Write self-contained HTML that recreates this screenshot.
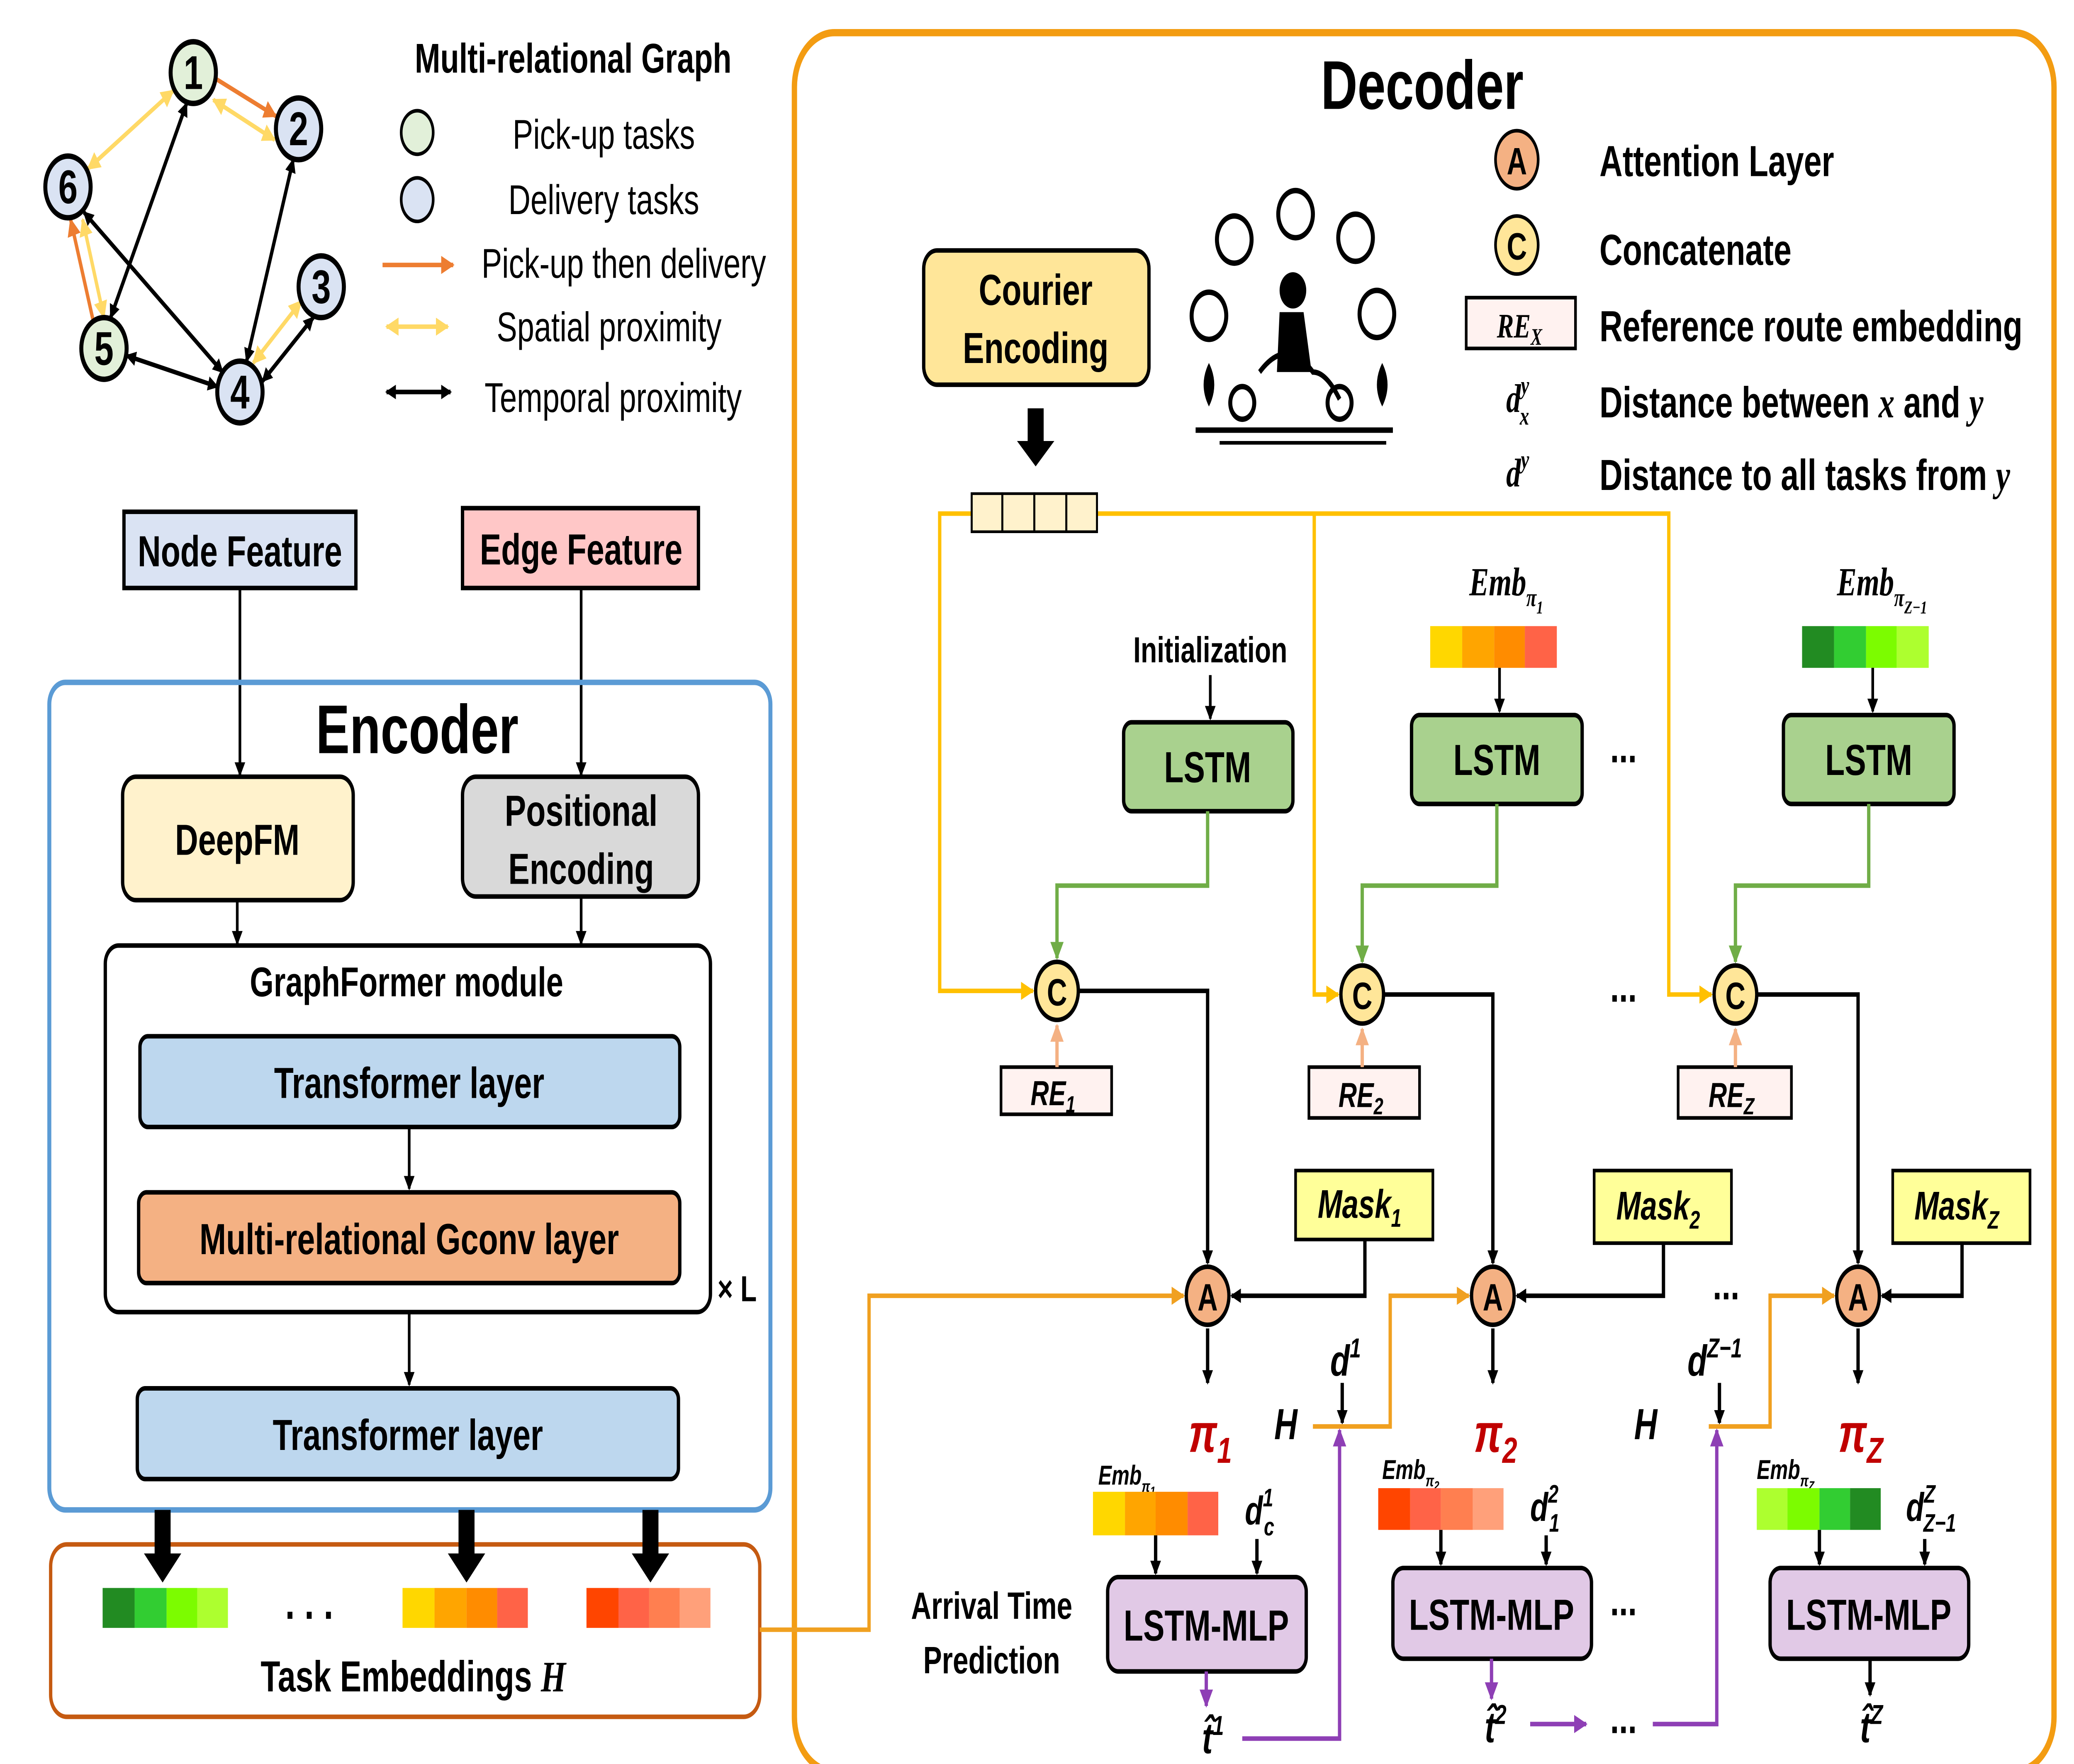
<!DOCTYPE html>
<html><head><meta charset="utf-8"><style>
html,body{margin:0;padding:0;background:#fff;width:100vw;height:100vh;overflow:hidden;}
svg{display:block;width:100vw;height:100vh;}
text{font-family:"Liberation Sans",sans-serif;}
.b{font-weight:bold;}
.m{font-family:"Liberation Serif",serif;font-style:italic;font-weight:bold;}
</style></head><body>
<svg viewBox="0 0 1556 972" preserveAspectRatio="none" xmlns="http://www.w3.org/2000/svg">
<defs>
<marker id="ak" markerWidth="8" markerHeight="8" refX="7" refY="4" orient="auto" markerUnits="userSpaceOnUse"><path d="M0,0 L8,4 L0,8 z" fill="#000"/></marker>
<marker id="ak2" markerWidth="8" markerHeight="8" refX="1" refY="4" orient="auto" markerUnits="userSpaceOnUse"><path d="M8,0 L0,4 L8,8 z" fill="#000"/></marker>
<marker id="ao" markerWidth="10" markerHeight="10" refX="9" refY="5" orient="auto" markerUnits="userSpaceOnUse"><path d="M0,0 L10,5 L0,10 z" fill="#f0a020"/></marker>
<marker id="ay" markerWidth="10" markerHeight="10" refX="9" refY="5" orient="auto" markerUnits="userSpaceOnUse"><path d="M0,0 L10,5 L0,10 z" fill="#ffc000"/></marker>
<marker id="ay2" markerWidth="10" markerHeight="10" refX="1" refY="5" orient="auto" markerUnits="userSpaceOnUse"><path d="M10,0 L0,5 L10,10 z" fill="#ffd966"/></marker>
<marker id="ayl" markerWidth="10" markerHeight="10" refX="9" refY="5" orient="auto" markerUnits="userSpaceOnUse"><path d="M0,0 L10,5 L0,10 z" fill="#ffd966"/></marker>
<marker id="ar" markerWidth="10" markerHeight="10" refX="9" refY="5" orient="auto" markerUnits="userSpaceOnUse"><path d="M0,0 L10,5 L0,10 z" fill="#ed7d31"/></marker>
<marker id="ag" markerWidth="10" markerHeight="10" refX="9" refY="5" orient="auto" markerUnits="userSpaceOnUse"><path d="M0,0 L10,5 L0,10 z" fill="#70ad47"/></marker>
<marker id="ap" markerWidth="10" markerHeight="10" refX="9" refY="5" orient="auto" markerUnits="userSpaceOnUse"><path d="M0,0 L10,5 L0,10 z" fill="#8e3fb5"/></marker>
<marker id="al" markerWidth="10" markerHeight="10" refX="9" refY="5" orient="auto" markerUnits="userSpaceOnUse"><path d="M0,0 L10,5 L0,10 z" fill="#f4b183"/></marker>
</defs>

<!-- ===== Graph ===== -->
<g stroke-width="2.5" fill="none">
<line x1="161" y1="43" x2="207" y2="64" stroke="#ed7d31" marker-end="url(#ar)"/>
<line x1="160" y1="55" x2="206" y2="77" stroke="#ffd966" marker-end="url(#ayl)" marker-start="url(#ay2)"/>
<line x1="130" y1="50" x2="66" y2="93" stroke="#ffd966" marker-end="url(#ayl)" marker-start="url(#ay2)"/>
<line x1="220" y1="88" x2="185" y2="199" stroke="#000" marker-end="url(#ak)" marker-start="url(#ak2)"/>
<line x1="190" y1="200" x2="226" y2="166" stroke="#ffd966" marker-end="url(#ayl)" marker-start="url(#ay2)"/>
<line x1="197" y1="210" x2="235" y2="175" stroke="#000" marker-end="url(#ak)" marker-start="url(#ak2)"/>
<line x1="167" y1="205" x2="63" y2="117" stroke="#000" marker-end="url(#ak)" marker-start="url(#ak2)"/>
<line x1="140" y1="57" x2="83" y2="175" stroke="#000" marker-end="url(#ak)" marker-start="url(#ak2)"/>
<line x1="95" y1="196" x2="163" y2="213" stroke="#000" marker-end="url(#ak)" marker-start="url(#ak2)"/>
<line x1="70" y1="177" x2="53" y2="121" stroke="#ed7d31" marker-end="url(#ar)"/>
<line x1="62" y1="121" x2="78" y2="175" stroke="#ffd966" marker-end="url(#ayl)" marker-start="url(#ay2)"/>
</g>
<g stroke="#000" stroke-width="3">
<circle cx="145" cy="40" r="17" fill="#e2f0d9"/><circle cx="224" cy="71" r="17" fill="#dae3f3"/>
<circle cx="241" cy="158" r="17" fill="#dae3f3"/><circle cx="180" cy="216" r="17" fill="#dae3f3"/>
<circle cx="78" cy="192" r="17" fill="#e2f0d9"/><circle cx="51" cy="103" r="17" fill="#dae3f3"/>
</g>
<g font-size="26" font-weight="bold" text-anchor="middle">
<text x="145" y="49">1</text><text x="224" y="80">2</text><text x="241" y="167">3</text><text x="180" y="225">4</text><text x="78" y="201">5</text><text x="51" y="112">6</text>
</g>
<text x="430" y="40" font-size="23" class="b" text-anchor="middle">Multi-relational Graph</text>
<circle cx="313" cy="73" r="12" fill="#e2f0d9" stroke="#000" stroke-width="2"/>
<circle cx="313" cy="110" r="12" fill="#dae3f3" stroke="#000" stroke-width="2"/>
<g font-size="23" text-anchor="middle">
<text x="453" y="82">Pick-up tasks</text><text x="453" y="118">Delivery tasks</text>
<text x="468" y="153">Pick-up then delivery</text><text x="457" y="188">Spatial proximity</text><text x="460" y="227">Temporal proximity</text>
</g>
<line x1="287" y1="146" x2="340" y2="146" stroke="#ed7d31" stroke-width="2.5" marker-end="url(#ar)"/>
<line x1="290" y1="180" x2="336" y2="180" stroke="#ffd966" stroke-width="2.5" marker-end="url(#ayl)" marker-start="url(#ay2)"/>
<line x1="290" y1="216" x2="338" y2="216" stroke="#000" stroke-width="2.5" marker-end="url(#ak)" marker-start="url(#ak2)"/>

<!-- ===== Encoder ===== -->
<rect x="93" y="282" width="174" height="42" fill="#dae3f3" stroke="#000" stroke-width="2.5"/>
<text x="180" y="312" font-size="24" class="b" text-anchor="middle">Node Feature</text>
<rect x="347" y="280" width="177" height="44" fill="#ffc7c7" stroke="#000" stroke-width="2.5"/>
<text x="436" y="311" font-size="24" class="b" text-anchor="middle">Edge Feature</text>
<line x1="180" y1="324" x2="180" y2="427" stroke="#000" stroke-width="2" marker-end="url(#ak)"/>
<line x1="436" y1="324" x2="436" y2="427" stroke="#000" stroke-width="2" marker-end="url(#ak)"/>
<rect x="37" y="376" width="541" height="456" rx="12" fill="none" stroke="#5b9bd5" stroke-width="3"/>
<text x="313" y="415" font-size="38" class="b" text-anchor="middle">Encoder</text>
<rect x="92" y="428" width="173" height="68" rx="10" fill="#fff2cc" stroke="#000" stroke-width="2.5"/>
<text x="178" y="471" font-size="24" class="b" text-anchor="middle">DeepFM</text>
<rect x="347" y="428" width="177" height="66" rx="10" fill="#d9d9d9" stroke="#000" stroke-width="2.5"/>
<text x="436" y="455" font-size="24" class="b" text-anchor="middle">Positional</text>
<text x="436" y="487" font-size="24" class="b" text-anchor="middle">Encoding</text>
<line x1="178" y1="496" x2="178" y2="520" stroke="#000" stroke-width="2" marker-end="url(#ak)"/>
<line x1="436" y1="494" x2="436" y2="520" stroke="#000" stroke-width="2" marker-end="url(#ak)"/>
<rect x="79" y="521" width="454" height="202" rx="10" fill="#fff" stroke="#000" stroke-width="2.5"/>
<text x="305" y="549" font-size="23" class="b" text-anchor="middle">GraphFormer module</text>
<rect x="105" y="571" width="405" height="50" rx="6" fill="#bdd7ee" stroke="#000" stroke-width="2.5"/>
<text x="307" y="605" font-size="24" class="b" text-anchor="middle">Transformer layer</text>
<line x1="307" y1="621" x2="307" y2="655" stroke="#000" stroke-width="2" marker-end="url(#ak)"/>
<rect x="104" y="657" width="406" height="50" rx="6" fill="#f4b183" stroke="#000" stroke-width="2.5"/>
<text x="307" y="691" font-size="24" class="b" text-anchor="middle">Multi-relational Gconv layer</text>
<text x="553" y="717" font-size="20" class="b" text-anchor="middle">× L</text>
<line x1="307" y1="723" x2="307" y2="763" stroke="#000" stroke-width="2" marker-end="url(#ak)"/>
<rect x="103" y="765" width="406" height="50" rx="6" fill="#bdd7ee" stroke="#000" stroke-width="2.5"/>
<text x="306" y="799" font-size="24" class="b" text-anchor="middle">Transformer layer</text>

<!-- Task embeddings -->
<rect x="38" y="851" width="532" height="95" rx="12" fill="#fff" stroke="#c55a11" stroke-width="2.5"/>
<g>
<rect x="77" y="875" width="24" height="22" fill="#228b22"/><rect x="101" y="875" width="24" height="22" fill="#32cd32"/><rect x="125" y="875" width="23" height="22" fill="#7cfc00"/><rect x="148" y="875" width="23" height="22" fill="#adff2f"/>
<rect x="302" y="875" width="24" height="22" fill="#ffd700"/><rect x="326" y="875" width="24" height="22" fill="#ffa500"/><rect x="350" y="875" width="23" height="22" fill="#ff8c00"/><rect x="373" y="875" width="23" height="22" fill="#ff6347"/>
<rect x="440" y="875" width="24" height="22" fill="#ff4500"/><rect x="464" y="875" width="23" height="22" fill="#ff6347"/><rect x="487" y="875" width="23" height="22" fill="#ff7f50"/><rect x="510" y="875" width="23" height="22" fill="#ffa07a"/>
</g>
<text x="232" y="892" font-size="26" class="b" text-anchor="middle">. . .</text>
<text x="310" y="932" font-size="24" class="b" text-anchor="middle">Task Embeddings <tspan class="m">H</tspan></text>
<g fill="#000">
<rect x="116" y="832" width="12" height="24"/><path d="M108,856 L136,856 L122,872 z"/>
<rect x="344" y="832" width="12" height="24"/><path d="M336,856 L364,856 L350,872 z"/>
<rect x="482" y="832" width="12" height="24"/><path d="M474,856 L502,856 L488,872 z"/>
</g>

<!-- ===== Decoder ===== -->
<rect x="596" y="18" width="945" height="958" rx="30" fill="none" stroke="#f39c12" stroke-width="4"/>
<text x="1067" y="60" font-size="38" class="b" text-anchor="middle">Decoder</text>

<rect x="693" y="138" width="169" height="74" rx="10" fill="#ffe699" stroke="#000" stroke-width="2.5"/>
<text x="777" y="168" font-size="24" class="b" text-anchor="middle">Courier</text>
<text x="777" y="200" font-size="24" class="b" text-anchor="middle">Encoding</text>
<rect x="771" y="225" width="12" height="20"/><path d="M763,243 L791,243 L777,257 z"/>

<!-- yellow lines -->
<g stroke="#ffc000" stroke-width="2.5" fill="none">
<path d="M729,283 L705,283 L705,546 L775,546" marker-end="url(#ay)"/>
<path d="M823,283 L1252,283 L1252,548 L1284,548" marker-end="url(#ay)"/>
<path d="M986,283 L986,548 L1004,548" marker-end="url(#ay)"/>
</g>
<g fill="#fff2cc" stroke="#000" stroke-width="1.5">
<rect x="729" y="272" width="23" height="21"/><rect x="752" y="272" width="24" height="21"/><rect x="776" y="272" width="24" height="21"/><rect x="800" y="272" width="23" height="21"/>
</g>

<!-- scooter icon -->
<g stroke="#000" stroke-width="3" fill="none">
<circle cx="926" cy="132" r="13"/><circle cx="972" cy="118" r="13"/><circle cx="1017" cy="131" r="13"/>
<circle cx="907" cy="174" r="13"/><circle cx="1033" cy="173" r="13"/>
<path d="M945,205 q20,-20 40,0 q10,0 20,15" /><circle cx="932" cy="222" r="9"/><circle cx="1005" cy="222" r="9"/>
<line x1="897" y1="237" x2="1045" y2="237"/><line x1="915" y1="244" x2="1040" y2="244" stroke-width="2"/>
</g>
<circle cx="970" cy="160" r="10" fill="#000"/><path d="M960,172 L978,172 L984,205 L958,205 z" fill="#000"/>
<path d="M907,200 q-8,12 0,24 q8,-12 0,-24z M1037,200 q-8,12 0,24 q8,-12 0,-24z" fill="#000"/>

<!-- legend -->
<circle cx="1138" cy="88" r="16" fill="#f4b183" stroke="#000" stroke-width="2"/>
<text x="1138" y="96" font-size="21" class="b" text-anchor="middle">A</text>
<circle cx="1138" cy="135" r="16" fill="#ffe699" stroke="#000" stroke-width="2"/>
<text x="1138" y="143" font-size="21" class="b" text-anchor="middle">C</text>
<rect x="1100" y="164" width="82" height="28" fill="#fff2f0" stroke="#000" stroke-width="2"/>
<text x="1140" y="186" font-size="19" class="m" text-anchor="middle">RE<tspan font-size="13" dy="4">X</tspan></text>
<text x="1130" y="227" font-size="22" class="m">d<tspan font-size="14" dy="-10">y</tspan><tspan font-size="14" dx="-7" dy="17">x</tspan></text>
<text x="1130" y="268" font-size="22" class="m">d<tspan font-size="14" dy="-10">y</tspan></text>
<g font-size="24" class="b">
<text x="1200" y="97">Attention Layer</text><text x="1200" y="146">Concatenate</text>
<text x="1200" y="188">Reference route embedding</text>
<text x="1200" y="230">Distance between <tspan class="m">x</tspan> and <tspan class="m">y</tspan></text>
<text x="1200" y="270">Distance to all tasks from <tspan class="m">y</tspan></text>
</g>

<!-- LSTMs -->
<text x="908" y="365" font-size="20" class="b" text-anchor="middle">Initialization</text>
<line x1="908" y1="372" x2="908" y2="396" stroke="#000" stroke-width="2" marker-end="url(#ak)"/>
<text x="1130" y="328" font-size="22" class="m" text-anchor="middle">Emb<tspan font-size="14" dy="6">π<tspan font-size="10" dy="4">1</tspan></tspan></text>
<rect x="1073" y="345" width="24" height="23" fill="#ffd700"/><rect x="1097" y="345" width="24" height="23" fill="#ffa500"/><rect x="1121" y="345" width="23" height="23" fill="#ff8c00"/><rect x="1144" y="345" width="24" height="23" fill="#ff6347"/>
<text x="1412" y="328" font-size="22" class="m" text-anchor="middle">Emb<tspan font-size="14" dy="6">π<tspan font-size="10" dy="4">Z−1</tspan></tspan></text>
<rect x="1352" y="345" width="24" height="23" fill="#228b22"/><rect x="1376" y="345" width="24" height="23" fill="#32cd32"/><rect x="1400" y="345" width="23" height="23" fill="#7cfc00"/><rect x="1423" y="345" width="24" height="23" fill="#adff2f"/>
<line x1="1125" y1="368" x2="1125" y2="392" stroke="#000" stroke-width="2" marker-end="url(#ak)"/>
<line x1="1405" y1="368" x2="1405" y2="392" stroke="#000" stroke-width="2" marker-end="url(#ak)"/>
<g fill="#a9d18e" stroke="#000" stroke-width="2.5">
<rect x="843" y="398" width="127" height="49" rx="6"/><rect x="1059" y="394" width="128" height="49" rx="6"/><rect x="1338" y="394" width="128" height="49" rx="6"/>
</g>
<g font-size="24" class="b" text-anchor="middle">
<text x="906" y="431">LSTM</text><text x="1123" y="427">LSTM</text><text x="1402" y="427">LSTM</text>
</g>
<g font-size="24" class="b" text-anchor="middle">
<text x="1218" y="420">...</text><text x="1218" y="552">...</text><text x="1295" y="716">...</text><text x="1218" y="890">...</text><text x="1218" y="955">...</text>
</g>
<g stroke="#70ad47" stroke-width="2.5" fill="none">
<path d="M906,447 L906,488 L793,488 L793,528" marker-end="url(#ag)"/>
<path d="M1123,443 L1123,488 L1022,488 L1022,530" marker-end="url(#ag)"/>
<path d="M1402,443 L1402,488 L1302,488 L1302,530" marker-end="url(#ag)"/>
</g>

<!-- RE boxes -->
<g fill="#fff2f0" stroke="#000" stroke-width="2">
<rect x="751" y="588" width="83" height="26"/><rect x="982" y="588" width="83" height="28"/><rect x="1259" y="588" width="85" height="28"/>
</g>
<g font-size="19" class="m" text-anchor="middle">
<text x="790" y="609">RE<tspan font-size="13" dy="4">1</tspan></text>
<text x="1021" y="610">RE<tspan font-size="13" dy="4">2</tspan></text>
<text x="1299" y="610">RE<tspan font-size="13" dy="4">Z</tspan></text>
</g>
<g stroke="#f4b183" stroke-width="2.5">
<line x1="793" y1="588" x2="793" y2="565" marker-end="url(#al)"/>
<line x1="1022" y1="588" x2="1022" y2="567" marker-end="url(#al)"/>
<line x1="1302" y1="588" x2="1302" y2="567" marker-end="url(#al)"/>
</g>

<!-- C -> A black -->
<g stroke="#000" stroke-width="2.5" fill="none">
<path d="M809,546 L906,546 L906,696" marker-end="url(#ak)"/>
<path d="M1038,548 L1120,548 L1120,696" marker-end="url(#ak)"/>
<path d="M1318,548 L1394,548 L1394,696" marker-end="url(#ak)"/>
<path d="M1024,683 L1024,714 L924,714" marker-end="url(#ak)"/>
<path d="M1248,685 L1248,714 L1138,714" marker-end="url(#ak)"/>
<path d="M1472,685 L1472,714 L1412,714" marker-end="url(#ak)"/>
<line x1="906" y1="732" x2="906" y2="762" marker-end="url(#ak)"/>
<line x1="1120" y1="732" x2="1120" y2="762" marker-end="url(#ak)"/>
<line x1="1394" y1="732" x2="1394" y2="762" marker-end="url(#ak)"/>
<line x1="1007" y1="762" x2="1007" y2="784" marker-end="url(#ak)"/>
<line x1="1290" y1="762" x2="1290" y2="784" marker-end="url(#ak)"/>
</g>
<g fill="#ffe699" stroke="#000" stroke-width="2.5">
<circle cx="793" cy="546" r="16"/><circle cx="1022" cy="548" r="16"/><circle cx="1302" cy="548" r="16"/>
</g>
<g font-size="21" class="b" text-anchor="middle">
<text x="793" y="554">C</text><text x="1022" y="556">C</text><text x="1302" y="556">C</text>
</g>

<!-- Masks -->
<g fill="#ffff99" stroke="#000" stroke-width="2">
<rect x="972" y="645" width="103" height="38"/><rect x="1196" y="645" width="103" height="40"/><rect x="1420" y="645" width="103" height="40"/>
</g>
<g font-size="22" class="m" text-anchor="middle">
<text x="1020" y="671">Mask<tspan font-size="14" dy="5">1</tspan></text>
<text x="1244" y="672">Mask<tspan font-size="14" dy="5">2</tspan></text>
<text x="1468" y="672">Mask<tspan font-size="14" dy="5">Z</tspan></text>
</g>

<!-- orange H lines -->
<g stroke="#f0a020" stroke-width="2.5" fill="none">
<path d="M570,898 L652,898 L652,714 L888,714" marker-end="url(#ao)"/>
<path d="M985,786 L1043,786 L1043,714 L1102,714" marker-end="url(#ao)"/>
<path d="M1282,786 L1328,786 L1328,714 L1376,714" marker-end="url(#ao)"/>
</g>
<g fill="#f4b183" stroke="#000" stroke-width="2.5">
<circle cx="906" cy="714" r="16"/><circle cx="1120" cy="714" r="16"/><circle cx="1394" cy="714" r="16"/>
</g>
<g font-size="21" class="b" text-anchor="middle">
<text x="906" y="722">A</text><text x="1120" y="722">A</text><text x="1394" y="722">A</text>
</g>
<g font-size="24" class="m">
<text x="956" y="793">H</text><text x="1226" y="793">H</text>
<text x="998" y="758">d<tspan font-size="15" dy="-10">1</tspan></text>
<text x="1266" y="758">d<tspan font-size="15" dy="-10">Z−1</tspan></text>
</g>
<g font-size="30" class="m" fill="#c00000" text-anchor="middle">
<text x="908" y="800">π<tspan font-size="20" dy="6">1</tspan></text>
<text x="1122" y="800">π<tspan font-size="20" dy="6">2</tspan></text>
<text x="1396" y="800">π<tspan font-size="20" dy="6">Z</tspan></text>
</g>

<!-- bottom Emb bars -->
<g font-size="15" class="m">
<text x="824" y="818">Emb<tspan font-size="9" dy="4">π<tspan font-size="7" dy="2">1</tspan></tspan></text>
<text x="1037" y="815">Emb<tspan font-size="9" dy="4">π<tspan font-size="7" dy="2">2</tspan></tspan></text>
<text x="1318" y="815">Emb<tspan font-size="9" dy="4">π<tspan font-size="7" dy="2">Z</tspan></tspan></text>
</g>
<rect x="820" y="822" width="24" height="24" fill="#ffd700"/><rect x="844" y="822" width="23" height="24" fill="#ffa500"/><rect x="867" y="822" width="24" height="24" fill="#ff8c00"/><rect x="891" y="822" width="23" height="24" fill="#ff6347"/>
<rect x="1034" y="820" width="24" height="23" fill="#ff4500"/><rect x="1058" y="820" width="23" height="23" fill="#ff6347"/><rect x="1081" y="820" width="24" height="23" fill="#ff7f50"/><rect x="1105" y="820" width="23" height="23" fill="#ffa07a"/>
<rect x="1318" y="820" width="23" height="23" fill="#adff2f"/><rect x="1341" y="820" width="24" height="23" fill="#7cfc00"/><rect x="1365" y="820" width="23" height="23" fill="#32cd32"/><rect x="1388" y="820" width="23" height="23" fill="#228b22"/>
<g font-size="22" class="m">
<text x="934" y="840">d<tspan font-size="14" dy="-10">1</tspan><tspan font-size="14" dx="-7" dy="16">c</tspan></text>
<text x="1148" y="838">d<tspan font-size="14" dy="-10">2</tspan><tspan font-size="14" dx="-7" dy="16">1</tspan></text>
<text x="1430" y="838">d<tspan font-size="14" dy="-10">Z</tspan><tspan font-size="14" dx="-9" dy="16">Z−1</tspan></text>
</g>
<g stroke="#000" stroke-width="2.5">
<line x1="867" y1="846" x2="867" y2="867" marker-end="url(#ak)"/><line x1="943" y1="848" x2="943" y2="867" marker-end="url(#ak)"/>
<line x1="1081" y1="843" x2="1081" y2="862" marker-end="url(#ak)"/><line x1="1160" y1="846" x2="1160" y2="862" marker-end="url(#ak)"/>
<line x1="1365" y1="843" x2="1365" y2="862" marker-end="url(#ak)"/><line x1="1444" y1="848" x2="1444" y2="862" marker-end="url(#ak)"/>
<line x1="1403" y1="914" x2="1403" y2="934" marker-end="url(#ak)"/>
</g>
<g fill="#e1c9e6" stroke="#000" stroke-width="2.5">
<rect x="831" y="869" width="149" height="52" rx="8"/><rect x="1045" y="864" width="149" height="50" rx="8"/><rect x="1328" y="864" width="149" height="50" rx="8"/>
</g>
<g font-size="24" class="b" text-anchor="middle">
<text x="905" y="904">LSTM-MLP</text><text x="1119" y="898">LSTM-MLP</text><text x="1402" y="898">LSTM-MLP</text>
</g>
<text x="744" y="892" font-size="21" class="b" text-anchor="middle">Arrival Time</text>
<text x="744" y="922" font-size="21" class="b" text-anchor="middle">Prediction</text>
<g stroke="#8e3fb5" stroke-width="2.5" fill="none">
<line x1="905" y1="921" x2="905" y2="940" marker-end="url(#ap)"/>
<line x1="1119" y1="914" x2="1119" y2="936" marker-end="url(#ap)"/>
<path d="M932,958 L1005,958 L1005,788" marker-end="url(#ap)"/>
<line x1="1148" y1="950" x2="1190" y2="950" marker-end="url(#ap)"/>
<path d="M1240,950 L1288,950 L1288,788" marker-end="url(#ap)"/>
</g>
<g font-size="24" class="m" text-anchor="middle">
<text x="910" y="966">t̂<tspan font-size="15" dy="-10">1</tspan></text>
<text x="1122" y="960">t̂<tspan font-size="15" dy="-10">2</tspan></text>
<text x="1404" y="960">t̂<tspan font-size="15" dy="-10">Z</tspan></text>
</g>
</svg>
</body></html>
